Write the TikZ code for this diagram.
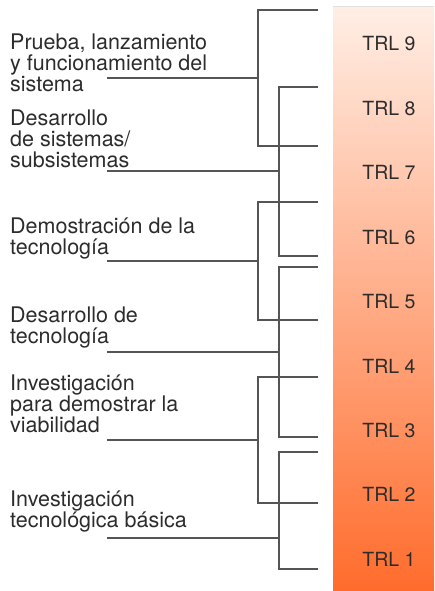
\documentclass[tikz,border=0pt]{standalone}
\usepackage{fontspec}
\setmainfont{TeX Gyre Heros}
\definecolor{txt}{HTML}{2C2C2C}
\definecolor{ln}{HTML}{555555}
\definecolor{bartop}{HTML}{FFEEE5}
\definecolor{barbot}{HTML}{FF6C2C}
\begin{document}
\begin{tikzpicture}[x=1pt,y=-1pt,
  desc/.style={anchor=base west, inner sep=0pt, text=txt, font=\fontsize{21.5}{21}\selectfont},
  trl/.style={anchor=base, inner sep=0pt, text=txt, font=\fontsize{19.5}{21}\selectfont},
  conn/.style={draw=ln, line width=1.3pt}]
\useasboundingbox (0,0) rectangle (434,591);
% gradient bar
\shade[top color=bartop, bottom color=barbot] (333,6.5) rectangle (434,591);
\draw[black!12, line width=0.8pt] (333,6.5) -- (434,6.5);
% TRL labels
\foreach \k in {1,...,9} {
  \node[trl] (trl\k) at (389,{51+64.4*(9-\k)}) {TRL \k};
}
% descriptions
\node[desc] (d1) at (10,50) {\vtop{\hbox{Prueba, lanzamiento}\hbox{y funcionamiento del}\hbox{sistema}}};
\node[desc] (d2) at (10,125) {\vtop{\hbox{Desarrollo}\hbox{de sistemas/}\hbox{subsistemas}}};
\node[desc] (d3) at (10,233) {\vtop{\hbox{Demostración de la}\hbox{tecnología}}};
\node[desc] (d4) at (10,322) {\vtop{\hbox{Desarrollo de}\hbox{tecnología}}};
\node[desc] (d5) at (10,390) {\vtop{\hbox{Investigación}\hbox{para demostrar la}\hbox{viabilidad}}};
\node[desc] (d6) at (10,506) {\vtop{\hbox{Investigación}\hbox{tecnológica básica}}};
% connector coordinates: stem start, bracket top end, bracket bottom end
\coordinate (s1) at (107,78);  \coordinate (t1) at (318,10);  \coordinate (u1) at (318,146);
\coordinate (s2) at (107,171); \coordinate (t2) at (318,87);  \coordinate (u2) at (318,256);
\coordinate (s3) at (107,261); \coordinate (t3) at (318,202); \coordinate (u3) at (318,320);
\coordinate (s4) at (107,352); \coordinate (t4) at (318,267); \coordinate (u4) at (318,437);
\coordinate (s5) at (107,440); \coordinate (t5) at (318,377); \coordinate (u5) at (318,503);
\coordinate (s6) at (107,538); \coordinate (t6) at (318,452); \coordinate (u6) at (318,569);
% brackets
\foreach \i/\bx in {1/258,2/279,3/258,4/279,5/258,6/279} {
  \draw[conn] (t\i) -- (\bx,0 |- t\i) -- (\bx,0 |- u\i) -- (u\i);
  \draw[conn] (s\i) -- (\bx,0 |- s\i);
}
\end{tikzpicture}
\end{document}
